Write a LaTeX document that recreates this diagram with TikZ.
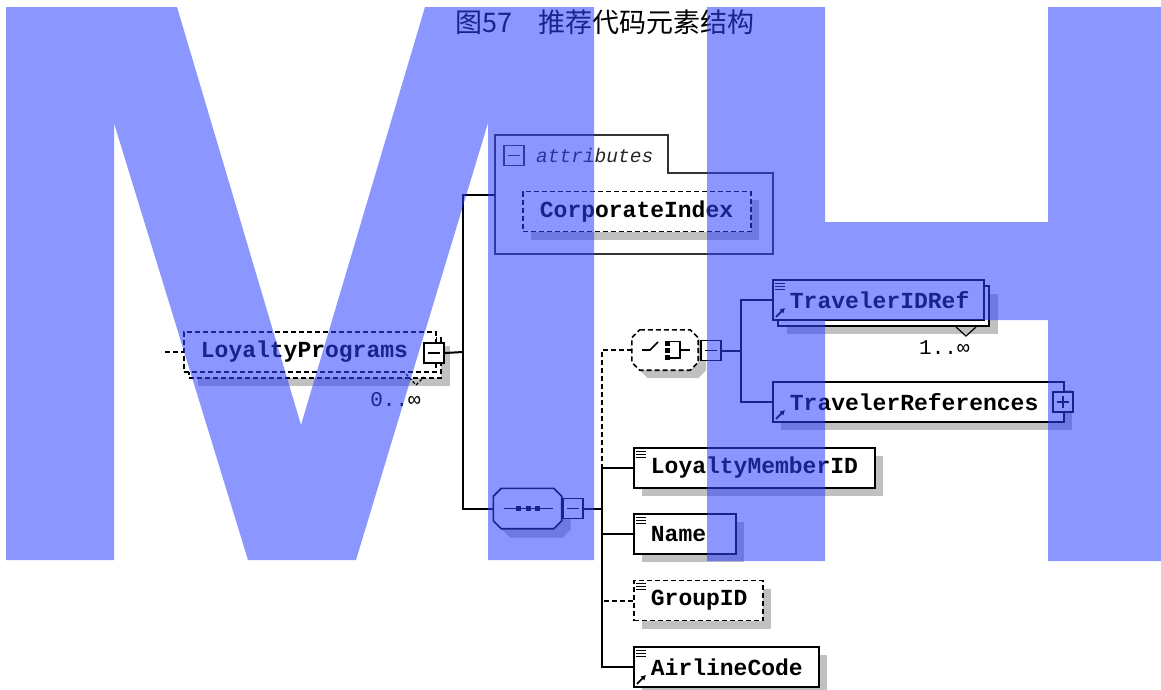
\documentclass[tikz,border=0pt]{standalone}
\usepackage{fontspec}
\newfontfamily\monofam{Liberation Mono}
\newfontfamily\cjkfam{Noto Sans CJK SC}
\usetikzlibrary{shadows,arrows.meta}

\definecolor{shadowgray}{RGB}{192,192,192}
\definecolor{markblue}{RGB}{45,64,255}

% octagon outline round a compositor node
\newcommand*{\octpath}[1]{([xshift=8pt]#1.north west) -- ([xshift=-8pt]#1.north east) -- ([yshift=-8pt]#1.north east)
	-- ([yshift=8pt]#1.south east) -- ([xshift=-8pt]#1.south east) -- ([xshift=8pt]#1.south west)
	-- ([yshift=8pt]#1.south west) -- ([yshift=-8pt]#1.north west) -- cycle}

\begin{document}
\begin{tikzpicture}
[
	x=1pt,y=-1pt,
	conn/.style={line width=2pt,black},
	dashconn/.style={conn,dash pattern=on 5pt off 3pt},
	elem/.style={draw=black,line width=1.8pt,fill=white,anchor=west,minimum height=40pt,
		inner xsep=0pt,inner ysep=0pt,align=left,execute at begin node={\hspace*{17pt}},
		font=\monofam\bfseries\fontsize{23pt}{23pt}\selectfont},
	optelem/.style={elem,dash pattern=on 5pt off 3pt},
	shade/.style={drop shadow={shadow xshift=8pt,shadow yshift=-8pt,fill=shadowgray,opacity=1}},
	stackshade/.style={drop shadow={shadow xshift=14pt,shadow yshift=-14pt,fill=shadowgray,opacity=1},
		copy shadow={shadow xshift=5pt,shadow yshift=-6pt,draw=black,fill=white,line width=1.8pt,#1}},
	stackshade/.default={},
	cbox/.style={draw=black,line width=1.6pt,fill=white,minimum size=20pt,inner sep=0pt,
		path picture={\draw[line width=1.5pt] ([xshift=4pt]path picture bounding box.west) -- ([xshift=-4pt]path picture bounding box.east);}},
	pbox/.style={draw=black,line width=1.6pt,fill=white,minimum size=20pt,inner sep=0pt,
		path picture={\draw[line width=1.5pt] ([xshift=4pt]path picture bounding box.west) -- ([xshift=-4pt]path picture bounding box.east);
			\draw[line width=1.5pt] ([yshift=-4pt]path picture bounding box.north) -- ([yshift=4pt]path picture bounding box.south);}},
	comp/.style={rectangle,minimum width=68pt,minimum height=40pt,inner sep=0pt},
	mult/.style={font=\monofam\fontsize{21pt}{21pt}\selectfont,inner sep=0pt}
]

	\useasboundingbox (0,0) rectangle (1161,689);
	\fill[white] (0,0) rectangle (1161,689);

	% title
	\node[font=\cjkfam\fontsize{27pt}{27pt}\selectfont] (title) at (605,22) {图57　推荐代码元素结构};

	% root element
	\node[optelem,text width=252pt,stackshade={dash pattern=on 5pt off 3pt}] (lp) at (183,352) {LoyaltyPrograms};
	\node[cbox] (lpminus) at (434,353) {};
	\draw[line width=1.2pt,dash pattern=on 3pt off 2pt] (406,374) -- (416,385) -- (424,377);
	\node[mult,anchor=east] (lpmult) at (421,400) {0..∞};

	% attributes
	\draw[line width=1.8pt,black!80] (495,135) -- (668,135) -- (668,173) -- (773,173) -- (773,254) -- (495,254) -- cycle;
	\node[cbox,draw=black!80] (attrminus) at (514,155.5) {};
	\node[anchor=west,inner sep=0pt,black!85,font=\monofam\itshape\fontsize{19.5pt}{19.5pt}\selectfont] (attrlabel) at (536,156) {attributes};
	\node[optelem,text width=228pt,shade] (corpidx) at (522,211.5) {CorporateIndex};
	\coordinate (attrin) at (495,195);

	% sequence
	\node[comp] (seq) at (527.5,508.5) {};
	\fill[shadowgray,transform canvas={shift={(9pt,-9pt)}}] \octpath{seq};
	\draw[line width=1.6pt,fill=white] \octpath{seq};
	\draw[line width=1.5pt] ([xshift=-24pt]seq.center) -- ([xshift=25pt]seq.center);
	\foreach \dx in {-9,1,10}
		\fill ([shift={(\dx-2.5,-2.5)}]seq.center) rectangle ++(5,5);
	\node[cbox] (seqminus) at (573,508.5) {};

	% choice
	\node[comp,minimum width=66pt] (choice) at (665,350) {};
	\fill[shadowgray,transform canvas={shift={(8pt,-8pt)}}] \octpath{choice};
	\draw[line width=1.6pt,fill=white,dash pattern=on 5pt off 3pt] \octpath{choice};
	\begin{scope}[shift={(choice.center)},line width=1.6pt]
		\draw (-23,0) -- (-15,0) -- (-7,-8);
		\foreach \dy in {-7,0,7}
			\fill (0,\dy-2.5) rectangle ++(5,5);
		\draw (2,-8.5) -- (15,-8.5) -- (15,8) -- (2,8);
		\draw (15,0) -- (25,0);
	\end{scope}
	\node[cbox] (choiceminus) at (711,350.5) {};

	% choice members
	\node[elem,text width=211pt,stackshade] (tidref) at (772,300) {TravelerIDRef};
	\draw[line width=1.2pt] (956,327) -- (966,336) -- (976,327);
	\node[mult,anchor=west] (tidmult) at (919,348) {1..∞};
	\node[elem,text width=291pt,shade] (trefs) at (772,402) {TravelerReferences};
	\node[pbox] (trefsplus) at (1063,402) {};

	% sequence members
	\node[elem,text width=241pt,shade] (lmid) at (633,468) {LoyaltyMemberID};
	\node[elem,text width=102pt,shade] (name) at (633,534) {Name};
	\node[optelem,text width=129pt,shade] (groupid) at (633,600.5) {GroupID};
	\node[elem,text width=185pt,shade] (airline) at (633,667) {AirlineCode};

	% icons
	\foreach \n in {lmid,name,groupid,airline,tidref}
		\foreach \dy in {4,7,10}
			\draw[line width=1.1pt] ([shift={(3,\dy)}]\n.north west) -- ++(10,0);
	\foreach \n in {airline,tidref,trefs}
		\draw[line width=1.8pt,-{Latex[length=5pt,width=6pt]}] ([shift={(4,-4)}]\n.south west) -- ++(9,-9);

	% connectors
	\coordinate (lpin) at (165,352);
	\coordinate (lpjoin) at (463,352);
	\coordinate (seqjoin) at (602,508.5);
	\coordinate (choicejoin) at (741,350.5);
	\draw[dashconn] (lpin) -- (lp.west);
	\draw[conn] (lpminus.east) -- (lpjoin);
	\draw[conn] (attrin) -| (lpjoin) |- (seq.west);
	\draw[conn] (seqminus.east) -- (seqjoin);
	\draw[dashconn] (choice.west) -| (lmid.west -| seqjoin);
	\draw[conn] (lmid.west) -| (airline.west -| seqjoin) -- (airline.west);
	\draw[conn] (name.west) -- (name.west -| seqjoin);
	\draw[dashconn] (groupid.west) -- (groupid.west -| seqjoin);
	\draw[conn] (choiceminus.east) -- (choicejoin);
	\draw[conn] (tidref.west) -| (choicejoin) |- (trefs.west);

	% watermark
	\fill[markblue,fill opacity=0.55] (6,7) -- (177,7) -- (301,425) -- (425,7) -- (594,7) -- (594,560) -- (488,560)
		-- (488,123) -- (356,560) -- (248,560) -- (114,123) -- (114,560) -- (6,560) -- cycle;
	\fill[markblue,fill opacity=0.55] (707,7) -- (825,7) -- (825,222) -- (1048,222) -- (1048,7) -- (1161,7) -- (1161,561)
		-- (1048,561) -- (1048,320) -- (825,320) -- (825,561) -- (707,561) -- cycle;

\end{tikzpicture}
\end{document}
